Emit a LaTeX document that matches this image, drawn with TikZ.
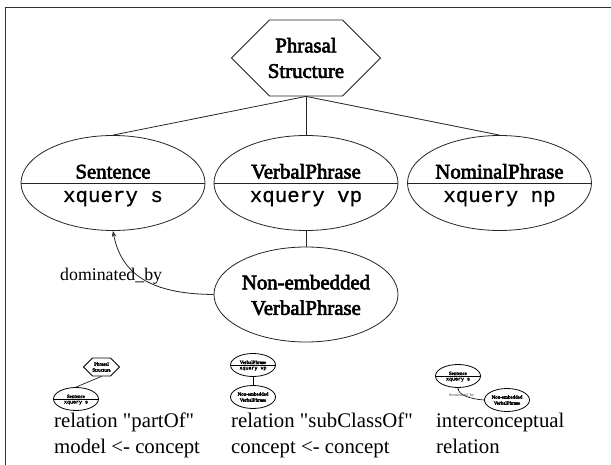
\documentclass[tikz,border=0pt]{standalone}
\usepackage{fontspec}
\setmainfont{Liberation Serif}
\newfontfamily\capfont{Liberation Serif}
\newfontfamily\fbold[FakeBold=3]{Liberation Serif}
\newfontfamily\fmono[FakeBold=0.6]{Liberation Mono}
\newfontfamily\tbold[FakeBold=5]{Liberation Serif}
\newfontfamily\tmono[FakeBold=4]{Liberation Mono}
\usetikzlibrary{shapes.geometric,shapes.symbols,arrows.meta}
\tikzset{
  x=1pt,y=-1pt,
  link/.style={draw=black!85,line width=0.8pt},
  thin link/.style={draw=black,line width=0.6pt},
  bigell/.style={ellipse,draw=black!85,line width=0.8pt,minimum width=184pt,minimum height=95pt,inner sep=0pt},
  smallell/.style={ellipse,draw=black,line width=0.8pt,minimum width=45pt,minimum height=23pt,inner sep=0pt},
  bighex/.style={signal,signal to=west and east,signal pointer angle=90,draw=black!85,line width=0.8pt,minimum width=149pt,minimum height=76pt,inner sep=0pt},
  smallhex/.style={signal,signal to=west and east,signal pointer angle=90,draw=black,line width=0.8pt,minimum width=36pt,minimum height=18pt,inner sep=0pt},
  bigtxt/.style={font=\fontsize{20.8}{25.5}\fbold,align=center,inner sep=0pt},
  bigmono/.style={font=\fontsize{20.8}{26}\fmono,inner sep=0pt},
  tinytxt/.style={font=\fontsize{5}{6}\tbold,align=center,inner sep=0pt},
  tinymono/.style={font=\fontsize{5}{6}\tmono,inner sep=0pt},
  captxt/.style={font=\fontsize{20.8}{26}\capfont,align=left,anchor=north west,inner sep=0pt},
}
\begin{document}
\begin{tikzpicture}
\useasboundingbox (0,0) rectangle (611,465);
\fill[white] (0,0) rectangle (611,465);
\draw[black!80,line width=0.9pt] (5,470) -- (5,7.5) -- (616,7.5);
% main diagram
\node[bighex] (ps) at (306,58) {};
\node[bigtxt] (pst) at (306,58) {Phrasal\\Structure};
\node[bigell] (s) at (113,183) {};
\node[bigell] (vp) at (306,183) {};
\node[bigell] (np) at (499.5,183) {};
\node[bigell] (ne) at (306,294.5) {};
\draw[link] (s.west) -- (s.east);
\draw[link] (vp.west) -- (vp.east);
\draw[link] (np.west) -- (np.east);
\node[bigtxt,anchor=base] (st) at (113,178.5) {Sentence};
\node[bigtxt,anchor=base] (vt) at (306,178.5) {VerbalPhrase};
\node[bigtxt,anchor=base] (nt) at (499.5,178.5) {NominalPhrase};
\node[bigmono,anchor=base] (sm) at (113,202) {xquery s};
\node[bigmono,anchor=base] (vm) at (306,202) {xquery vp};
\node[bigmono,anchor=base] (nm) at (499.5,202) {xquery np};
\node[bigtxt] (net) at (306,295) {Non-embedded\\VerbalPhrase};
\draw[link] (ps.south) -- (s.north);
\draw[link] (ps.south) -- (vp.north);
\draw[link] (ps.south) -- (np.north);
\draw[link] (vp.south) -- (ne.north);
\draw[link,-{Stealth[length=6pt,width=4.5pt]}] (ne.west) .. controls (160,294) and (122,280) .. (s.south);
\node[anchor=base west,inner sep=0pt,font=\fontsize{17.8}{20}\capfont] (dom) at (60,281) {dominated\_by};
% legend 1
\node[smallhex] (a1) at (101.5,367) {};
\node[tinytxt] at (a1) {Phrasal\\Structure};
\node[smallell] (a2) at (76,399) {};
\draw[thin link] (a2.west) -- (a2.east);
\node[tinytxt,anchor=base] at (76,398) {Sentence};
\node[tinymono,anchor=base] at (76,403.5) {xquery s};
\draw[thin link] (a1.south) -- (a2.north);
% legend 2
\node[smallell] (b1) at (253,365) {};
\draw[thin link] (b1.west) -- (b1.east);
\node[tinytxt,anchor=base] at (253,364) {VerbalPhrase};
\node[tinymono,anchor=base] at (253,369.5) {xquery vp};
\node[smallell] (b2) at (253,397) {};
\node[tinytxt] at (b2) {Non-embedded\\VerbalPhrase};
\draw[thin link] (b1.south) -- (b2.north);
% legend 3
\node[smallell] (c1) at (458,376) {};
\draw[thin link] (c1.west) -- (c1.east);
\node[tinytxt,anchor=base] at (458,375) {Sentence};
\node[tinymono,anchor=base] at (458,380.5) {xquery s};
\node[smallell] (c2) at (507,400) {};
\node[tinytxt] at (c2) {Non-embedded\\VerbalPhrase};
\draw[thin link,-{Stealth[length=2pt,width=1.6pt]}] (c2.west) .. controls (470,399) and (459,395) .. (c1.south);
\node[anchor=base west,inner sep=0pt,font=\fontsize{4.4}{5}\capfont,text=black!70] (d3) at (449,396) {dominated\_by};
% captions
\node[captxt] (k1) at (54,413) {relation "partOf"\\model <- concept};
\node[captxt] (k2) at (231,413) {relation "subClassOf"\\concept <- concept};
\node[captxt] (k3) at (436,413) {interconceptual\\relation};
\end{tikzpicture}
\end{document}
